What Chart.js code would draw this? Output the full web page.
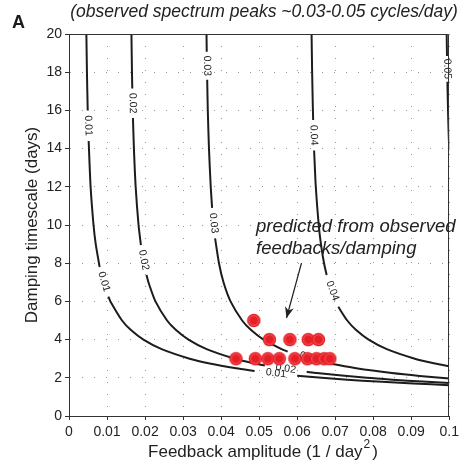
<!DOCTYPE html>
<html><head><meta charset="utf-8">
<script src="https://cdn.jsdelivr.net/npm/chart.js@4.4.0/dist/chart.umd.min.js"></script>
<style>html,body{margin:0;padding:0;background:#fff}canvas{display:block}</style>
</head><body>
<canvas id="c" width="463" height="464"></canvas>
<script>
// Panel A — frequency contours over (feedback, damping) + observed estimates
var FONT = '"Liberation Sans", Arial, Helvetica, sans-serif';

var xTickValues = [0,0.01,0.02,0.03,0.04,0.05,0.06,0.07,0.08,0.09,0.1];
var yTickValues = [0,2,4,6,8,10,12,14,16,18,20];

var levelNames = ['0.01','0.02','0.03','0.04','0.05'];

// contour traces [feedback, timescale], null = gap where the inline label sits
var c001 = [
  [0.00457,20],[0.00472,18],[0.00492,16.0],null,
  [0.00517,14.4],[0.00568,12],[0.00645,10],[0.00703,9],[0.00806,7.8],null,
  [0.01035,6.25],[0.01089,6],[0.01395,5],[0.01629,4.5],[0.01957,4],[0.02436,3.5],[0.03173,3],[0.03701,2.75],[0.04395,2.5],[0.0488,2.36],null,
  [0.060,2.11],[0.06645,2],[0.0732,1.9],[0.0811,1.8],[0.0905,1.7],[0.1,1.615]
];
var c002 = [
  [0.01642,20],[0.01656,18],[0.01664,17.15],null,
  [0.01682,15.6],[0.01707,14],[0.01753,12],[0.01829,10],[0.01891,8.95],null,
  [0.02038,7.38],[0.02089,7],[0.02274,6],[0.02579,5],[0.02814,4.5],[0.03142,4],[0.0362,3.5],[0.04357,3],[0.04885,2.75],[0.0515,2.646],null,
  [0.0625,2.313],[0.06517,2.25],[0.07829,2],[0.08504,1.9],[0.09295,1.8],[0.1,1.723]
];
var c003 = [
  [0.03616,20],[0.03622,19.07],null,
  [0.03634,17.6],[0.0365,16],[0.03681,14],[0.03727,12],[0.03763,10.9],null,
  [0.03842,9.3],[0.03944,8],[0.04063,7],[0.04248,6],[0.04553,5],[0.04788,4.5],[0.05116,4],[0.05594,3.5],[0.0575,3.373],null,
  [0.069,2.733],[0.07553,2.5],[0.08491,2.25],[0.09222,2.1],[0.1,1.969]
];
var c004 = [
  [0.06379,20],[0.06394,18],[0.06414,16],[0.06421,15.5],null,
  [0.06446,13.9],[0.0649,12],[0.06567,10],[0.06625,9],[0.06707,8],[0.06776,7.38],null,
  [0.07081,5.72],[0.07317,5],[0.07551,4.5],[0.07879,4],[0.08357,3.5],[0.09094,3],[0.09622,2.75],[0.1,2.61]
];
var c005 = [
  [0.09932,20],[0.0994,18.85],null,
  [0.09951,17.5],[0.09967,16],[0.09989,14.5],[0.1,13.9]
];
var contours = [c001,c002,c003,c004,c005];

// predicted from observed feedbacks/damping
var observedFeedback = [0.0486, 0.0527,0.0581,0.0629,0.0656, 0.0439,0.0490,0.0523,0.0553,0.0594,0.0627,0.0651,0.0671,0.0686];
var observedDamping  = [5, 4,4,4,4, 3,3,3,3,3,3,3,3,3];

function toXY(arr){
  return arr.map(function(p){ return p ? {x:p[0],y:p[1]} : {x:null,y:null}; });
}

function makeDot(){
  var c=document.createElement('canvas'); c.width=15; c.height=15;
  var g=c.getContext('2d');
  g.fillStyle='#e61e26'; g.beginPath(); g.arc(7.5,7.5,6.7,0,Math.PI*2); g.fill();
  g.strokeStyle='rgba(250,120,120,0.75)'; g.lineWidth=0.9;
  g.beginPath(); g.arc(7.5,7.5,4.8,0,Math.PI*2); g.stroke();
  return c;
}

var datasets = [{
  label:'observed',
  data:observedFeedback.map(function(x,i){return {x:x,y:observedDamping[i]};}),
  pointStyle:makeDot(), pointRadius:7, showLine:false, order:0
}];
contours.forEach(function(c,i){
  datasets.push({
    label:levelNames[i], isContour:true, data:toXY(c), showLine:true, spanGaps:false,
    borderColor:'#1c1c1c', borderWidth:2, pointRadius:0, tension:0.25, order:1
  });
});

// inline contour labels, placed in each gap and turned along the line
var contourLabels = {
  id:'contourLabels',
  beforeDatasetsDraw:function(chart){
    var ctx=chart.ctx;
    ctx.save();
    ctx.font='10.5px '+FONT; ctx.fillStyle='#222'; ctx.textAlign='center'; ctx.textBaseline='middle';
    chart.data.datasets.forEach(function(ds,di){
      if(!ds.isContour) return;
      var pts=chart.getDatasetMeta(di).data;
      for(var i=1;i<pts.length-1;i++){
        if(!pts[i].skip) continue;
        var a=pts[i-1], b=pts[i+1];
        var ang=Math.atan2(b.y-a.y,b.x-a.x);
        if(ang>Math.PI/2) ang-=Math.PI;
        if(ang<-Math.PI/2) ang+=Math.PI;
        ctx.save(); ctx.translate((a.x+b.x)/2,(a.y+b.y)/2); ctx.rotate(ang);
        ctx.fillText(ds.label,0,0); ctx.restore();
      }
    });
    ctx.restore();
  }
};

function arrow(ctx,x1,y1,x2,y2){
  ctx.beginPath(); ctx.moveTo(x1,y1); ctx.lineTo(x2,y2); ctx.stroke();
  var a=Math.atan2(y2-y1,x2-x1), L=11, W=4.5;
  ctx.beginPath(); ctx.moveTo(x2,y2);
  ctx.lineTo(x2-L*Math.cos(a)+W*Math.sin(a), y2-L*Math.sin(a)-W*Math.cos(a));
  ctx.lineTo(x2-L*0.7*Math.cos(a), y2-L*0.7*Math.sin(a));
  ctx.lineTo(x2-L*Math.cos(a)-W*Math.sin(a), y2-L*Math.sin(a)+W*Math.cos(a));
  ctx.closePath(); ctx.fill();
}

var decorations = {
  id:'decorations',
  afterDraw:function(chart){
    var ctx=chart.ctx, ca=chart.chartArea;
    ctx.save();
    // top + right frame
    ctx.strokeStyle='#333'; ctx.lineWidth=1;
    ctx.beginPath();
    ctx.moveTo(Math.round(ca.left)+0.5,Math.round(ca.top)+0.5);
    ctx.lineTo(Math.round(ca.right)-0.5,Math.round(ca.top)+0.5);
    ctx.lineTo(Math.round(ca.right)-0.5,Math.round(ca.bottom)+0.5);
    ctx.stroke();

    ctx.fillStyle='#1a1a1a'; ctx.textBaseline='middle';
    ctx.font='bold 18px '+FONT; ctx.textAlign='left';
    ctx.fillText('A',12,23);

    ctx.fillStyle='#222';
    ctx.font='italic 17.5px '+FONT; ctx.textAlign='center';
    ctx.fillText('(observed spectrum peaks ~0.03-0.05 cycles/day)',264,12);

    // y title
    ctx.font='17px '+FONT;
    ctx.save(); ctx.translate(32,225); ctx.rotate(-Math.PI/2);
    ctx.fillText('Damping timescale (days)',0,0); ctx.restore();

    // x title with superscript
    var t1='Feedback amplitude (1 / day', t2=')';
    ctx.font='17px '+FONT; var w1=ctx.measureText(t1).width, w3=ctx.measureText(t2).width;
    ctx.font='12px '+FONT; var w2=ctx.measureText('2').width;
    var x0=263-(w1+w2+3+w3)/2;
    ctx.textAlign='left';
    ctx.font='17px '+FONT; ctx.fillText(t1,x0,452);
    ctx.font='12px '+FONT; ctx.fillText('2',x0+w1+1,445);
    ctx.font='17px '+FONT; ctx.fillText(t2,x0+w1+w2+3,452);

    // annotation
    ctx.font='italic 18.5px '+FONT;
    ctx.fillText('predicted from observed',256,227);
    ctx.fillText('feedbacks/damping',256,249);
    ctx.strokeStyle='#222'; ctx.fillStyle='#222'; ctx.lineWidth=1.2;
    arrow(ctx,301.5,263,286.5,318);
    ctx.restore();
  }
};

new Chart(document.getElementById('c'),{
  type:'scatter',
  data:{datasets:datasets},
  options:{
    responsive:false, animation:false,
    layout:{padding:{top:34,right:11,left:0,bottom:0}},
    plugins:{legend:{display:false},tooltip:{enabled:false}},
    scales:{
      x:{type:'linear',min:0,max:0.1,
        afterBuildTicks:function(s){s.ticks=xTickValues.map(function(v){return {value:v};});},
        afterFit:function(s){s.height=48;},
        grid:{color:'#999',lineWidth:1,drawTicks:true,tickLength:4,tickColor:'#333'},
        border:{display:true,color:'#333',width:1,dash:[1,11]},
        ticks:{color:'#222',font:{family:FONT,size:14},padding:4,maxRotation:0,autoSkip:false,
          callback:function(v){return String(+v.toFixed(2));}}
      },
      y:{type:'linear',min:0,max:20,
        afterBuildTicks:function(s){s.ticks=yTickValues.map(function(v){return {value:v};});},
        afterFit:function(s){s.width=69;},
        grid:{color:'#999',lineWidth:1,drawTicks:true,tickLength:4,tickColor:'#333'},
        border:{display:true,color:'#333',width:1,dash:[1,11]},
        ticks:{color:'#222',font:{family:FONT,size:14},padding:3,autoSkip:false}
      }
    }
  },
  plugins:[contourLabels,decorations]
});
</script>
</body></html>
